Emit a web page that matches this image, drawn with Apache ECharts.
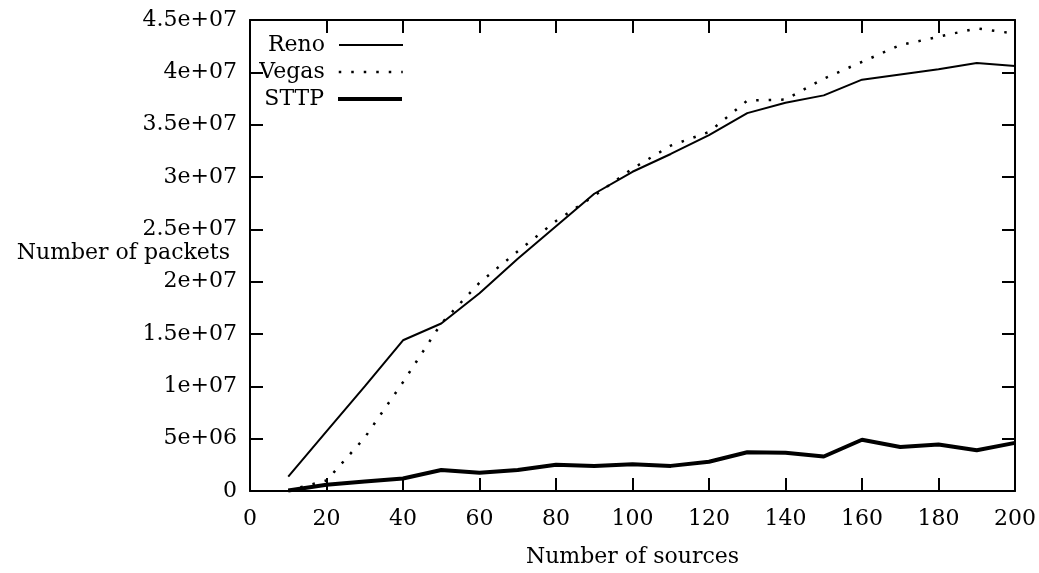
<!DOCTYPE html>
<html>
<head>
<meta charset="utf-8">
<title>Number of packets vs sources</title>
<script src="https://cdn.jsdelivr.net/npm/echarts@6/dist/echarts.min.js"></script>
<style>
  html, body { margin: 0; padding: 0; background: #fff; }
  #chart { width: 1039px; height: 573px; }
</style>
</head>
<body>
<div id="chart"></div>
<script>
// number of sources on the x axis
var sources = [10, 20, 30, 40, 50, 60, 70, 80, 90, 100, 110, 120, 130, 140, 150, 160, 170, 180, 190, 200]
// packets, in millions
var reno = [1.37, 5.7, 10.0, 14.4, 16.0, 18.9, 22.2, 25.3, 28.4, 30.5, 32.2, 34.0, 36.1, 37.1, 37.8, 39.3, 39.8, 40.3, 40.9, 40.6]
var vegas = [0.05, 1.0, 5.1, 10.4, 16.0, 19.9, 22.9, 25.8, 28.2, 30.8, 33.0, 34.3, 37.3, 37.4, 39.4, 41.0, 42.6, 43.4, 44.2, 43.7]
var sttp = [0.05, 0.6, 0.9, 1.2, 2.0, 1.75, 2.0, 2.5, 2.4, 2.55, 2.4, 2.8, 3.7, 3.65, 3.3, 4.9, 4.2, 4.45, 3.9, 4.6]
// y tick labels, one per 5 million
var yTickLabels = ['0', '5e+06', '1e+07', '1.5e+07', '2e+07', '2.5e+07', '3e+07', '3.5e+07', '4e+07', '4.5e+07']
var seriesNames = ['Reno', 'Vegas', 'STTP']

var FONT = 'DejaVu Serif'
var FS = 22

function pairs(xs, ys) {
  return xs.map(function (x, i) { return [x, ys[i]] })
}

var chart = echarts.init(document.getElementById('chart'))

var tickCommon = { show: true, inside: true, length: 13, lineStyle: { color: '#000', width: 2 } }
var lineCommon = { show: true, onZero: false, lineStyle: { color: '#000', width: 2 } }

// gnuplot style key: text right aligned, sample line to its right
function legendAt(name, top, lineStyle) {
  return {
    data: [name],
    right: 635,
    top: top,
    padding: 0,
    align: 'right',
    itemWidth: 64,
    itemHeight: 12,
    selectedMode: false,
    itemStyle: { opacity: 0 },
    lineStyle: lineStyle,
    textStyle: { fontFamily: FONT, fontSize: FS, color: '#000', padding: [0, 9, 0, 0] }
  }
}

chart.setOption({
  animation: false,
  backgroundColor: '#fff',
  grid: { left: 250, right: 22, top: 20, bottom: 82, containLabel: false },
  legend: [
    legendAt(seriesNames[0], 34, { width: 2 }),
    legendAt(seriesNames[1], 61, { width: 2.5 }),
    legendAt(seriesNames[2], 88, { width: 4 })
  ],
  graphic: [{
    type: 'text',
    right: 809,
    top: 242,
    style: { text: 'Number of packets', font: FS + 'px "' + FONT + '"', fill: '#000' }
  }],
  xAxis: [{
    type: 'value',
    min: 0,
    max: 200,
    interval: 20,
    name: 'Number of sources',
    nameLocation: 'middle',
    nameGap: 55,
    nameTextStyle: { fontFamily: FONT, fontSize: FS, color: '#000' },
    axisLine: lineCommon,
    axisTick: tickCommon,
    axisLabel: { margin: 17, fontFamily: FONT, fontSize: FS, color: '#000' },
    splitLine: { show: false }
  }, {
    type: 'value',
    position: 'top',
    min: 0,
    max: 200,
    interval: 20,
    axisLine: lineCommon,
    axisTick: tickCommon,
    axisLabel: { show: false },
    splitLine: { show: false }
  }],
  yAxis: [{
    type: 'value',
    min: 0,
    max: 45,
    interval: 5,
    axisLine: lineCommon,
    axisTick: tickCommon,
    axisLabel: {
      margin: 13,
      fontFamily: FONT,
      fontSize: FS,
      color: '#000',
      formatter: function (v) { return yTickLabels[Math.round(v / 5)] }
    },
    splitLine: { show: false }
  }, {
    type: 'value',
    position: 'right',
    min: 0,
    max: 45,
    interval: 5,
    axisLine: lineCommon,
    axisTick: tickCommon,
    axisLabel: { show: false },
    splitLine: { show: false }
  }],
  series: [{
    name: seriesNames[0],
    type: 'line',
    symbol: 'none',
    color: '#000',
    lineStyle: { color: '#000', width: 2 },
    data: pairs(sources, reno)
  }, {
    name: seriesNames[1],
    type: 'line',
    symbol: 'none',
    color: '#000',
    lineStyle: { color: '#000', width: 2.5, type: [2.5, 10] },
    data: pairs(sources, vegas)
  }, {
    name: seriesNames[2],
    type: 'line',
    symbol: 'none',
    color: '#000',
    lineStyle: { color: '#000', width: 4 },
    data: pairs(sources, sttp)
  }]
})
</script>
</body>
</html>
